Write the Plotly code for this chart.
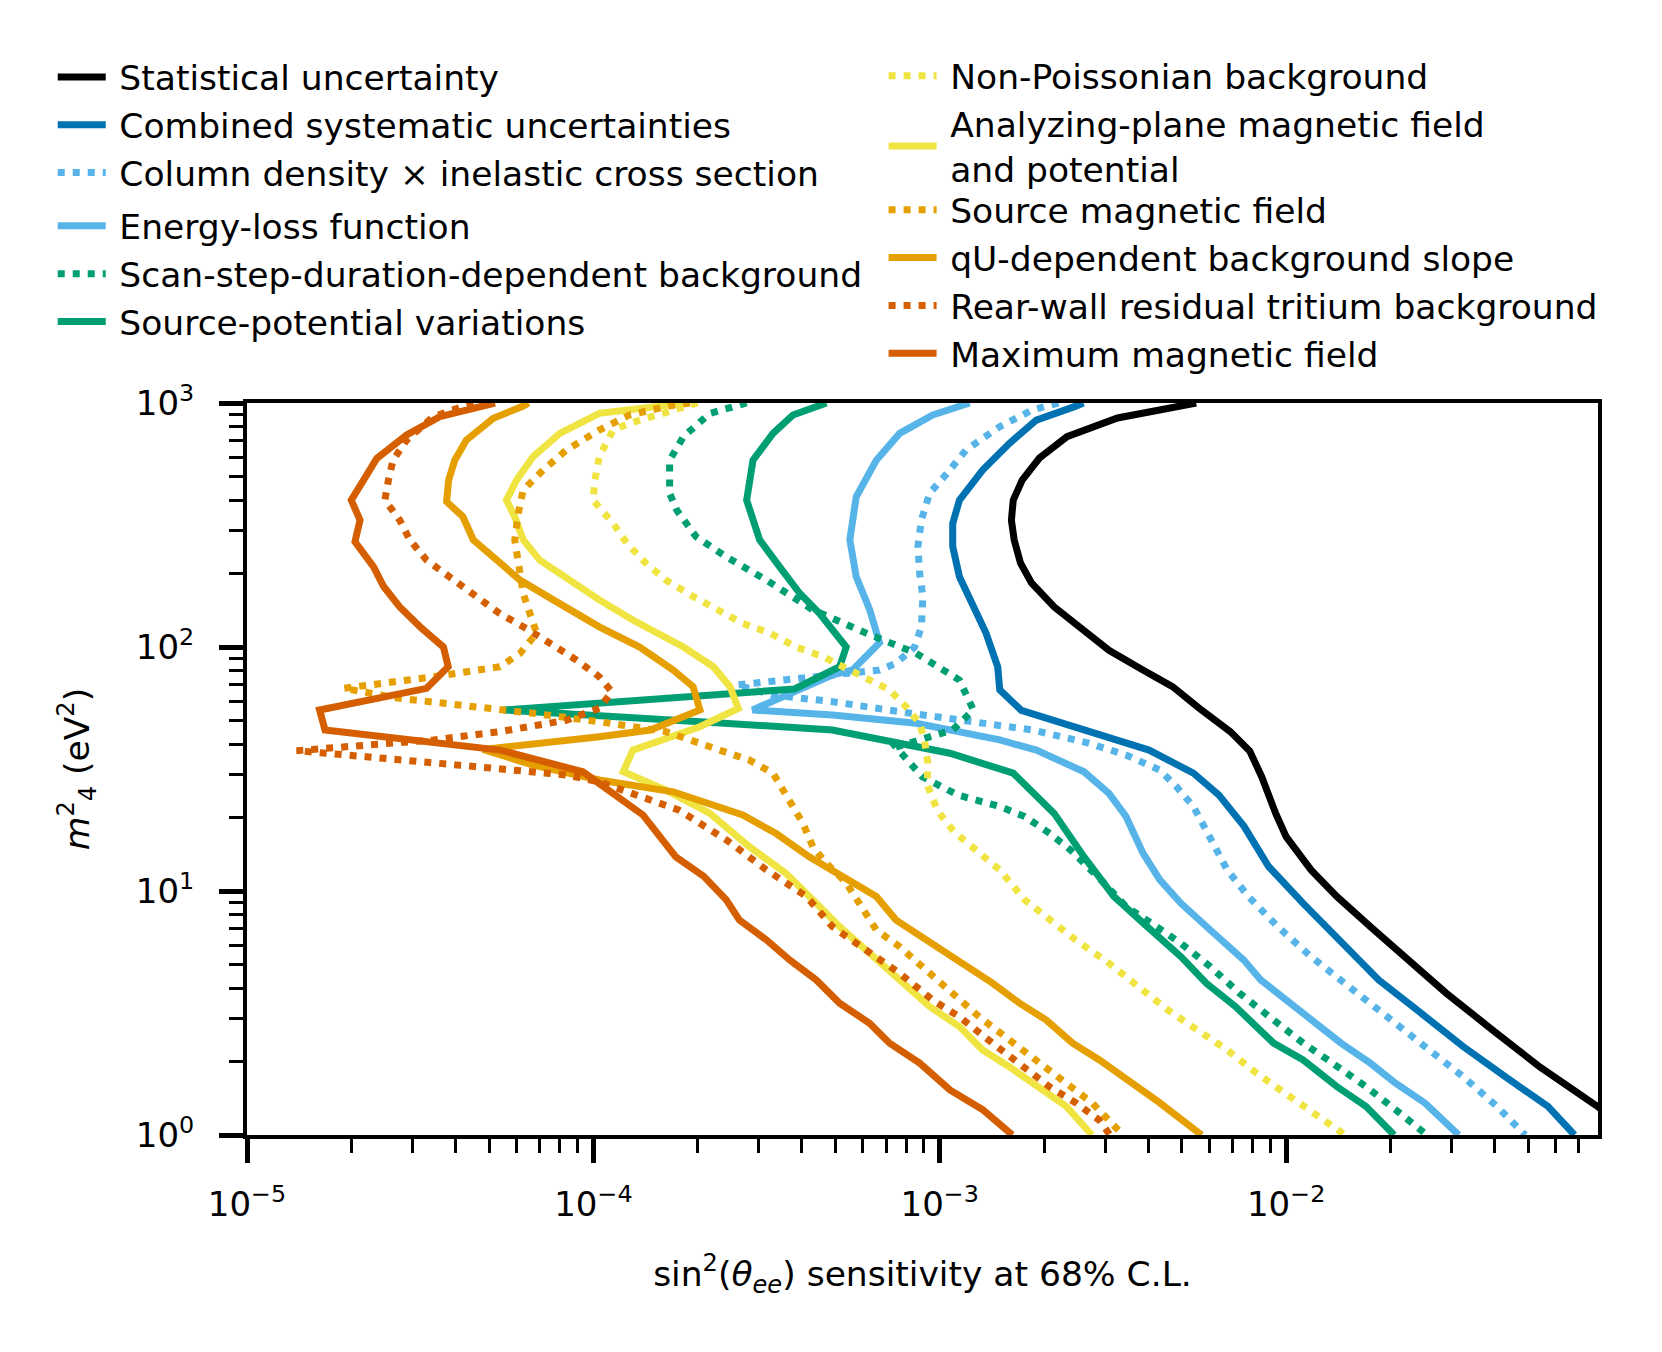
import plotly.graph_objects as go

# m4^2 (eV^2) on y, sin^2(theta_ee) sensitivity on x
STAT_M2 = [1000, 868, 728, 595, 483, 400, 331, 275, 221, 183, 146, 121, 97, 80.5, 68.8, 56.2, 45, 37.5,
           29.4, 20.8, 16.7, 12.2, 9.5, 7.14, 5.39, 3.81, 2.69, 1.9, 1.33, 1.0]
STAT_S2 = [5.5e-3, 3.26e-3, 2.33e-3, 1.94e-3, 1.73e-3, 1.63e-3, 1.61e-3, 1.64e-3, 1.71e-3, 1.84e-3, 2.14e-3,
           2.53e-3, 3.08e-3, 3.86e-3, 4.7e-3, 5.6e-3, 6.9e-3, 7.85e-3, 8.5e-3, 9.33e-3, 1.0e-2, 1.18e-2, 1.4e-2,
           1.75e-2, 2.19e-2, 2.9e-2, 3.95e-2, 5.4e-2, 7.8e-2, 0.103]

SYS_M2 = [1000, 966, 851, 684, 531, 400, 321, 258, 194, 146, 114, 83, 66.7, 55, 45, 37.8, 30.4, 24.7, 18.4,
          12.6, 8.9, 6.5, 4.32, 3.16, 2.3, 1.73, 1.31, 1.0]
SYS_S2 = [2.6e-3, 2.45e-3, 1.9e-3, 1.59e-3, 1.33e-3, 1.14e-3, 1.09e-3, 1.09e-3, 1.14e-3, 1.25e-3, 1.36e-3,
          1.47e-3, 1.49e-3, 1.72e-3, 2.7e-3, 4.02e-3, 5.4e-3, 6.4e-3, 7.56e-3, 8.9e-3, 1.12e-2, 1.4e-2, 1.85e-2,
          2.45e-2, 3.25e-2, 4.3e-2, 5.7e-2, 6.8e-2]

COLDENS_M2 = [1000, 936, 800, 641, 515, 427, 331, 258, 200, 161, 121, 100, 85.7, 80.5, 76.8, 73.2, 69.9, 63.5,
              59.7, 54.3, 50.1, 45.7, 40.6, 36.1, 31.3, 26.8, 22.2, 16.2, 12.2, 9.5, 7.14, 5.38, 4.19, 3.25,
              2.38, 1.73, 1.31, 1.0]
COLDENS_S2 = [2.2e-3, 1.85e-3, 1.49e-3, 1.19e-3, 1.05e-3, 9.35e-4, 8.85e-4, 8.65e-4, 8.75e-4, 8.94e-4, 8.85e-4,
              8.46e-4, 7.48e-4, 6.7e-4, 4.9e-4, 3.52e-4, 2.59e-4, 3.3e-4, 4.9e-4, 7.66e-4, 1.19e-3, 1.85e-3,
              2.65e-3, 3.45e-3, 4.32e-3, 4.82e-3, 5.4e-3, 6.04e-3, 6.76e-3, 7.78e-3, 9.46e-3, 1.18e-2, 1.48e-2,
              1.85e-2, 2.45e-2, 3.25e-2, 4.06e-2, 4.9e-2]

ELOSS_M2 = [1000, 893, 751, 583, 413, 275, 194, 142, 104, 80.5, 76.8, 55.2, 52.6, 48.7, 41.6, 37.8, 30.8, 25.1,
            20.2, 14.3, 11.1, 8.9, 6.92, 5.21, 4.32, 3.57, 2.87, 2.38, 1.97, 1.63, 1.35, 1.0]
ELOSS_S2 = [1.22e-3, 9.55e-4, 7.66e-4, 6.56e-4, 5.74e-4, 5.5e-4, 5.74e-4, 6.28e-4, 6.7e-4, 5.6e-4, 4.9e-4, 2.88e-4,
            4.9e-4, 8.55e-4, 1.49e-3, 1.9e-3, 2.61e-3, 3.08e-3, 3.45e-3, 3.86e-3, 4.32e-3, 4.97e-3, 6.04e-3,
            7.55e-3, 8.45e-3, 1.0e-2, 1.22e-2, 1.44e-2, 1.75e-2, 2.07e-2, 2.52e-2, 3.15e-2]

SCAN_M2 = [1000, 907, 728, 583, 427, 364, 283, 234, 188, 142, 114, 94.2, 73.2, 55.2, 45.7, 38.9, 29.4, 24.7,
           22.2, 20.2, 17.2, 14.7, 11.1, 8.63, 7.38, 6.1, 4.9, 3.81, 2.96, 2.38, 2.03, 1.58, 1.27, 1.0]
SCAN_S2 = [2.77e-4, 2.17e-4, 1.82e-4, 1.66e-4, 1.66e-4, 1.74e-4, 1.98e-4, 2.42e-4, 3.16e-4, 4.3e-4, 6.13e-4,
           8.55e-4, 1.14e-3, 1.25e-3, 1.09e-3, 7.47e-4, 8.9e-4, 1.13e-3, 1.49e-3, 1.76e-3, 2.08e-3, 2.39e-3,
           2.92e-3, 3.45e-3, 4.08e-3, 4.97e-3, 6.04e-3, 7.34e-3, 9.2e-3, 1.12e-2, 1.32e-2, 1.7e-2, 2.07e-2, 2.55e-2]

SRCPOT_M2 = [1000, 893, 751, 583, 400, 275, 213, 166, 137, 100, 83, 67.3, 55.2, 52.6, 49.4, 45.7, 36.7, 30.4,
             20.8, 13.8, 9.5, 7.14, 5.38, 4.19, 3.36, 2.38, 2.03, 1.58, 1.31, 1.0]
SRCPOT_S2 = [4.71e-4, 3.77e-4, 3.3e-4, 2.89e-4, 2.77e-4, 3.02e-4, 3.45e-4, 3.94e-4, 4.5e-4, 5.37e-4, 5.14e-4,
             3.81e-4, 5.5e-5, 1.04e-4, 2.03e-4, 4.9e-4, 1.07e-3, 1.63e-3, 2.14e-3, 2.61e-3, 3.18e-3, 3.97e-3,
             4.97e-3, 5.88e-3, 7.14e-3, 9.2e-3, 1.12e-2, 1.4e-2, 1.7e-2, 2.05e-2]

NONPOIS_M2 = [1000, 826, 775, 603, 483, 400, 321, 266, 220, 188, 161, 142, 125, 114, 100, 91.2, 83, 75.5, 66.7,
              56.9, 48.7, 41.6, 33.4, 27.3, 21.3, 17.5, 13.6, 12.2, 9.19, 7.6, 6.3, 5.06, 4.05, 3.25, 2.69,
              2.23, 1.79, 1.48, 1.23, 1.0]
NONPOIS_S2 = [2.0e-4, 1.27e-4, 1.14e-4, 1.04e-4, 1.01e-4, 9.98e-5, 1.14e-4, 1.25e-4, 1.42e-4, 1.62e-4, 1.94e-4,
              2.27e-4, 2.7e-4, 3.23e-4, 3.85e-4, 4.6e-4, 5.25e-4, 6.13e-4, 7.16e-4, 8.0e-4, 8.75e-4, 9.03e-4,
              9.24e-4, 9.2e-4, 9.86e-4, 1.1e-3, 1.35e-3, 1.49e-3, 1.76e-3, 2.08e-3, 2.47e-3, 3.08e-3, 3.75e-3,
              4.56e-3, 5.55e-3, 6.76e-3, 8.22e-3, 1.0e-2, 1.22e-2, 1.48e-2]

APMAG_M2 = [1000, 907, 751, 603, 483, 400, 342, 275, 227, 188, 156, 129, 100, 83, 68.8, 56, 47.1, 37.8, 30.8,
            25.9, 20.8, 15.2, 11.8, 8.91, 7.14, 5.73, 4.32, 3.36, 2.78, 2.23, 1.9, 1.53, 1.31, 1.0]
APMAG_S2 = [1.85e-4, 1.04e-4, 8.0e-5, 6.7e-5, 6.0e-5, 5.61e-5, 5.93e-5, 6.27e-5, 7.0e-5, 8.54e-5, 1.04e-4,
            1.3e-4, 1.82e-4, 2.22e-4, 2.48e-4, 2.62e-4, 2.03e-4, 1.3e-4, 1.22e-4, 1.62e-4, 2.17e-4, 2.82e-4, 3.6e-4,
            4.4e-4, 5.14e-4, 6.13e-4, 7.66e-4, 9.35e-4, 1.14e-3, 1.33e-3, 1.59e-3, 1.98e-3, 2.32e-3, 2.75e-3]

SRCMAG_M2 = [1000, 972, 893, 775, 641, 531, 440, 353, 275, 213, 166, 137, 114, 94.2, 83, 75.5, 67.7, 61.6, 57.8,
             53.5, 49.4, 45, 39, 34.4, 30.4, 23.6, 18.9, 15.2, 13.0, 10.8, 8.36, 6.92, 5.91, 4.75, 3.81, 3.05,
             2.45, 1.97, 1.63, 1.35, 1.0]
SRCMAG_S2 = [1.9e-4, 1.65e-4, 1.27e-4, 1.04e-4, 8.35e-5, 7.16e-5, 6.27e-5, 6.07e-5, 5.93e-5, 6.07e-5, 6.27e-5,
             6.56e-5, 6.86e-5, 6.14e-5, 5.37e-5, 3.45e-5, 1.9e-5, 2.76e-5, 4.3e-5, 6.7e-5, 1.04e-4, 1.62e-4,
             2.17e-4, 2.82e-4, 3.3e-4, 3.69e-4, 4.03e-4, 4.3e-4, 4.7e-4, 5.37e-4, 6.0e-4, 6.56e-4, 7.66e-4,
             9.14e-4, 1.09e-3, 1.3e-3, 1.59e-3, 1.94e-3, 2.32e-3, 2.76e-3, 3.38e-3]

QU_M2 = [1000, 972, 865, 705, 583, 483, 394, 342, 275, 234, 188, 156, 121, 100, 80.5, 68.8, 55.2, 45.7, 42.9,
         38, 32.8, 28.5, 25.5, 20.5, 17.2, 13.8, 11.1, 9.5, 7.6, 6.1, 5.06, 4.19, 3.47, 2.96, 2.38, 2.03, 1.36, 1.0]
QU_S2 = [6.5e-5, 6.27e-5, 5.14e-5, 4.3e-5, 3.98e-5, 3.82e-5, 3.77e-5, 4.2e-5, 4.5e-5, 5.14e-5, 6.14e-5, 7.66e-5,
         1.04e-4, 1.36e-4, 1.7e-4, 1.94e-4, 2.03e-4, 1.46e-4, 1.04e-4, 4.8e-5, 6.7e-5, 1.04e-4, 1.7e-4, 2.7e-4,
         3.37e-4, 4.2e-4, 5.5e-4, 6.56e-4, 7.48e-4, 9.55e-4, 1.17e-3, 1.42e-3, 1.7e-3, 2.03e-3, 2.42e-3, 2.89e-3,
         4.3e-3, 5.7e-3]

REAR_M2 = [1000, 879, 705, 583, 483, 400, 331, 275, 227, 194, 166, 137, 119, 104, 88.5, 75.5, 65.6, 56.1, 50.1,
           45, 41.6, 39.6, 37.6, 35.5, 33.4, 31.8, 29.9, 28.0, 25.1, 21.5, 16.2, 12.2, 9.5, 7.14, 5.73, 4.6, 3.57,
           3.05, 2.38, 1.9, 1.58, 1.35, 1.15, 1.0]
REAR_S2 = [4.5e-5, 3.45e-5, 2.89e-5, 2.64e-5, 2.56e-5, 2.5e-5, 2.76e-5, 2.95e-5, 3.3e-5, 3.86e-5, 4.5e-5, 5.37e-5,
           6.41e-5, 7.49e-5, 8.93e-5, 1.04e-4, 1.13e-4, 1.04e-4, 8.35e-5, 5.37e-5, 3.45e-5, 2.21e-5, 1.39e-5,
           2.21e-5, 3.45e-5, 5.37e-5, 8.35e-5, 1.04e-4, 1.3e-4, 1.76e-4, 2.42e-4, 3.16e-4, 4.12e-4, 4.9e-4,
           6.13e-4, 7.66e-4, 9.55e-4, 1.14e-3, 1.42e-3, 1.74e-3, 2.07e-3, 2.48e-3, 2.89e-3, 3.1e-3]

MAXB_M2 = [1000, 879, 739, 593, 483, 400, 331, 270, 213, 177, 146, 121, 100, 83, 67.7, 55.2, 45.7, 37.8, 30.8,
           20.5, 13.8, 11.5, 9.19, 7.6, 6.3, 5.21, 4.32, 3.47, 2.87, 2.38, 1.97, 1.53, 1.27, 1.0]
MAXB_S2 = [5.2e-5, 3.6e-5, 2.89e-5, 2.37e-5, 2.17e-5, 2.0e-5, 2.12e-5, 2.05e-5, 2.32e-5, 2.48e-5, 2.76e-5,
           3.16e-5, 3.69e-5, 3.81e-5, 3.3e-5, 1.62e-5, 1.68e-5, 5.37e-5, 9.33e-5, 1.39e-4, 1.73e-4, 2.08e-4,
           2.42e-4, 2.64e-4, 3.16e-4, 3.69e-4, 4.4e-4, 5.14e-4, 6.27e-4, 7.16e-4, 8.75e-4, 1.07e-3, 1.33e-3, 1.62e-3]

BLACK, BLUE, SKY, GREEN = "#000000", "#0072B2", "#56B4E9", "#009E73"
YELLOW, ORANGE, VERMILLION = "#F0E442", "#E69F00", "#D55E00"
DOT = "7px,8px"
FONT = "DejaVu Sans"
SP = "\u2005"  # small gap between legend handle and label

curves = [
    ("Statistical uncertainty", STAT_S2, STAT_M2, BLACK, "solid", "legend"),
    ("Combined systematic uncertainties", SYS_S2, SYS_M2, BLUE, "solid", "legend"),
    ("Column density × inelastic cross section", COLDENS_S2, COLDENS_M2, SKY, DOT, "legend"),
    ("Energy-loss function", ELOSS_S2, ELOSS_M2, SKY, "solid", "legend3"),
    ("Scan-step-duration-dependent background", SCAN_S2, SCAN_M2, GREEN, DOT, "legend3"),
    ("Source-potential variations", SRCPOT_S2, SRCPOT_M2, GREEN, "solid", "legend3"),
    ("Non-Poissonian background", NONPOIS_S2, NONPOIS_M2, YELLOW, DOT, "legend2"),
    ("Analyzing-plane magnetic field<br>" + SP + "and potential", APMAG_S2, APMAG_M2, YELLOW, "solid", "legend2"),
    ("Source magnetic field", SRCMAG_S2, SRCMAG_M2, ORANGE, DOT, "legend4"),
    ("qU-dependent background slope", QU_S2, QU_M2, ORANGE, "solid", "legend4"),
    ("Rear-wall residual tritium background", REAR_S2, REAR_M2, VERMILLION, DOT, "legend4"),
    ("Maximum magnetic field", MAXB_S2, MAXB_M2, VERMILLION, "solid", "legend4"),
]

fig = go.Figure()
for name, xs, ys, color, dash, leg in curves:
    fig.add_trace(go.Scatter(x=xs, y=ys, mode="lines", name=SP + name, legend=leg,
                             line=dict(color=color, width=7, dash=dash)))

x_major = [1e-5, 1e-4, 1e-3, 1e-2]
x_minor = [m * d for d in (1e-5, 1e-4, 1e-3, 1e-2) for m in range(2, 10) if m * d < 0.08]
y_major = [1, 10, 100, 1000]
y_minor = [m * d for d in (1, 10, 100) for m in range(2, 10)]

axis_common = dict(
    type="log", showgrid=False, zeroline=False,
    showline=True, mirror=True, linewidth=4, linecolor="black",
    ticks="outside", ticklen=24, tickwidth=4.5, tickcolor="black",
    tickfont=dict(family=FONT, size=34, color="black"),
)

fig.update_xaxes(
    **axis_common, range=[-5, -1.0996],
    tickmode="array", tickvals=x_major,
    ticktext=["10<sup>−5</sup>", "10<sup>−4</sup>", "10<sup>−3</sup>", "10<sup>−2</sup>"],
    minor=dict(tickmode="array", tickvals=x_minor, ticks="outside", ticklen=14, tickwidth=3, tickcolor="black"),
    ticklabelstandoff=12,
    title=dict(text="sin<sup>2</sup>(<i>θ</i><sub><i>ee</i></sub>) sensitivity at 68% C.L.",
               font=dict(family=FONT, size=34.5, color="black"), standoff=40),
)
fig.update_yaxes(
    **axis_common, range=[0, 3],
    tickmode="array", tickvals=y_major,
    ticktext=["10<sup>0</sup>", "10<sup>1</sup>", "10<sup>2</sup>", "10<sup>3</sup>"],
    minor=dict(tickmode="array", tickvals=y_minor, ticks="outside", ticklen=14, tickwidth=3, tickcolor="black"),
    ticklabelstandoff=18,
    title=dict(text="<i>m</i><sup>2</sup><sub>4</sub> (eV<sup>2</sup>)",
               font=dict(family=FONT, size=34.5, color="black"), standoff=37),
)

leg_common = dict(font=dict(family=FONT, size=34.5, color="black"), bgcolor="rgba(0,0,0,0)",
                  xanchor="left", yanchor="top", itemwidth=48, traceorder="normal")
fig.update_layout(
    width=1662, height=1352,
    # the page body adds an 8px offset, so the plot box is placed 8px up/left of its target
    margin=dict(l=239, r=72, t=395, b=225),
    paper_bgcolor="white", plot_bgcolor="white",
    font=dict(family=FONT, color="black"),
    legend=dict(**leg_common, x=-0.1438, y=1.485),
    legend3=dict(**leg_common, x=-0.1438, y=1.2816),
    legend2=dict(**leg_common, x=0.4712, y=1.4865),
    legend4=dict(**leg_common, x=0.4712, y=1.3035),
)

fig.write_html("out.html")
